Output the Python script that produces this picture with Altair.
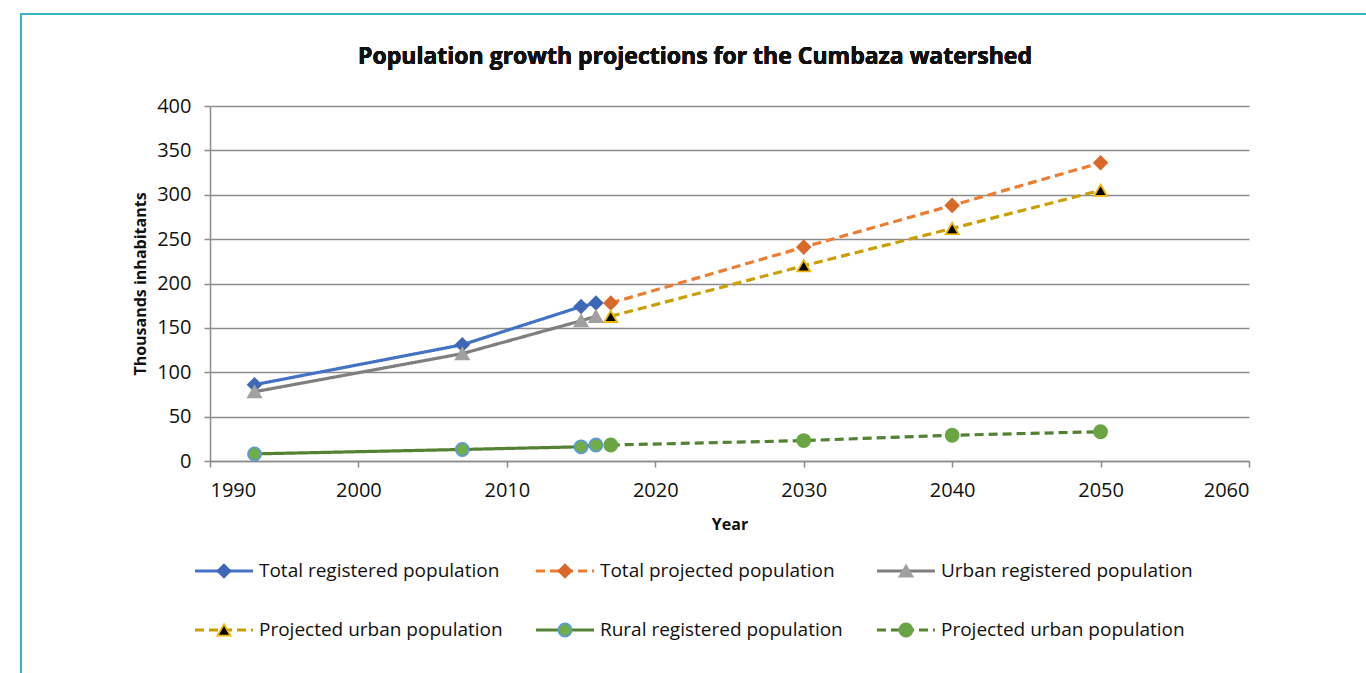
import altair as alt
import pandas as pd

# ---------------- data ----------------
years_registered = [1993, 2007, 2015, 2016]
years_projected = [2017, 2030, 2040, 2050]

total_registered = [86, 131, 174, 178]
total_projected = [178, 241, 288, 336]
urban_registered = [78, 121, 158, 163]
urban_projected = [163, 220, 262, 305]
rural_registered = [8, 13, 16, 18]
rural_projected = [18, 23, 29, 33]

series_keys = ["tot_reg", "tot_proj", "urb_reg", "urb_proj", "rur_reg", "rur_proj"]
series_labels = [
    "Total registered population",
    "Total projected population",
    "Urban registered population",
    "Projected urban population",
    "Rural registered population",
    "Projected urban population",
]
legend_cols = [0, 1, 2, 0, 1, 2]
legend_rows = [0, 0, 0, 1, 1, 1]

x_ticks = [1990, 2000, 2010, 2020, 2030, 2040, 2050, 2060]
y_ticks = [0, 50, 100, 150, 200, 250, 300, 350, 400]

title_text = "Population growth projections for the Cumbaza watershed"

# ---------------- styles ----------------
line_colors = ["#4472C4", "#ED7D31", "#7F7F7F", "#C9A000", "#548235", "#548235"]
dashes = [[1, 0], [9, 5], [1, 0], [9, 5], [1, 0], [9, 5]]
shapes = ["diamond", "diamond", "triangle-up", "triangle-up", "circle", "circle"]
fills = ["#3F67B8", "#D9692A", "#A0A0A0", "#000000", "#70AD47", "#6AA443"]
strokes = ["#3F67B8", "#D9692A", "#A0A0A0", "#F2B400", "#5B9BD5", "#6AA443"]
sizes = [170, 170, 190, 170, 55, 65]

rows = []
for key, yrs, vals in [
    ("tot_reg", years_registered, total_registered),
    ("tot_proj", years_projected, total_projected),
    ("urb_reg", years_registered, urban_registered),
    ("urb_proj", years_projected, urban_projected),
    ("rur_reg", years_registered, rural_registered),
    ("rur_proj", years_projected, rural_projected),
]:
    for yy, v in zip(yrs, vals):
        rows.append({"key": key, "year": yy, "value": v})
df = pd.DataFrame(rows)

legend_df = pd.DataFrame(
    {"key": series_keys, "label": series_labels, "col": legend_cols, "row": legend_rows}
)

FONT = "Open Sans"
TXT = "#111111"
GRAY = "#8C8C8C"

color_scale = alt.Scale(domain=series_keys, range=line_colors)
dash_scale = alt.Scale(domain=series_keys, range=dashes)
shape_scale = alt.Scale(domain=series_keys, range=shapes)
fill_scale = alt.Scale(domain=series_keys, range=fills)
stroke_scale = alt.Scale(domain=series_keys, range=strokes)
size_scale = alt.Scale(domain=series_keys, range=sizes)

x_enc = alt.X(
    "year:Q",
    scale=alt.Scale(domain=[1990, 2060], nice=False, zero=False),
    axis=alt.Axis(
        values=x_ticks, format="d", title="Year", grid=False,
        labelFontSize=20, labelFont=FONT, labelColor=TXT, labelPadding=13,
        tickSize=6, tickColor=GRAY, tickWidth=1.5,
        domainColor=GRAY, domainWidth=1.5,
        titleFont=FONT, titleFontSize=16, titleFontWeight="bold", titleColor=TXT,
        titlePadding=16,
    ),
)
y_enc = alt.Y(
    "value:Q",
    scale=alt.Scale(domain=[0, 400], nice=False),
    axis=alt.Axis(
        values=y_ticks, title="Thousands  inhabitants", grid=True,
        gridColor=GRAY, gridWidth=1.6,
        labelFontSize=20, labelFont=FONT, labelColor=TXT, labelPadding=13,
        tickSize=6, tickColor=GRAY, tickWidth=1.5,
        domainColor=GRAY, domainWidth=1.5,
        titleFont=FONT, titleFontSize=16, titleFontWeight="bold", titleColor=TXT,
        titlePadding=8,
    ),
)

lines = alt.Chart(df).mark_line(strokeWidth=3.2).encode(
    x=x_enc,
    y=y_enc,
    color=alt.Color("key:N", scale=color_scale, legend=None),
    strokeDash=alt.StrokeDash("key:N", scale=dash_scale, legend=None),
    detail="key:N",
)
points = alt.Chart(df).mark_point(filled=True, strokeWidth=1.8, opacity=1).encode(
    x="year:Q",
    y="value:Q",
    shape=alt.Shape("key:N", scale=shape_scale, legend=None),
    fill=alt.Fill("key:N", scale=fill_scale, legend=None),
    stroke=alt.Stroke("key:N", scale=stroke_scale, legend=None),
    size=alt.Size("key:N", scale=size_scale, legend=None),
)
main = alt.layer(lines, points)

# ---------------- manual legend ----------------
lx = alt.Scale(domain=[0, 3], range=[-15, 1008])
ly = alt.Scale(domain=[0, 1], range=[465, 524])
leg_base = alt.Chart(legend_df).transform_calculate(
    xr="datum.col + 0.17", xm="datum.col + 0.085"
)
leg_lines = leg_base.mark_rule(strokeWidth=3.2).encode(
    x=alt.X("col:Q", scale=lx, axis=None),
    x2="xr:Q",
    y=alt.Y("row:Q", scale=ly, axis=None),
    color=alt.Color("key:N", scale=color_scale, legend=None),
    strokeDash=alt.StrokeDash("key:N", scale=dash_scale, legend=None),
)
leg_points = leg_base.mark_point(filled=True, strokeWidth=1.8, opacity=1).encode(
    x=alt.X("xm:Q", scale=lx, axis=None),
    y=alt.Y("row:Q", scale=ly, axis=None),
    shape=alt.Shape("key:N", scale=shape_scale, legend=None),
    fill=alt.Fill("key:N", scale=fill_scale, legend=None),
    stroke=alt.Stroke("key:N", scale=stroke_scale, legend=None),
    size=alt.Size("key:N", scale=size_scale, legend=None),
)
leg_text = leg_base.mark_text(
    align="left", baseline="middle", dx=6, font=FONT, fontSize=19, color=TXT
).encode(
    x=alt.X("xr:Q", scale=lx, axis=None),
    y=alt.Y("row:Q", scale=ly, axis=None),
    text="label:N",
)
legend = alt.layer(leg_lines, leg_points, leg_text)

# ---------------- decorations ----------------
border = alt.Chart(legend_df).mark_rect(
    fill="transparent", stroke="#33B6C4", strokeWidth=1.5
).encode(
    x=alt.value(-189), x2=alt.value(1300), y=alt.value(-92), y2=alt.value(700)
)
title = alt.Chart(legend_df).mark_text(
    text=title_text, font=FONT, fontSize=23, fontWeight="bold", color=TXT,
    align="center", baseline="middle",
).encode(x=alt.value(485), y=alt.value(-49))

chart = (
    alt.layer(border, title, main, legend)
    .resolve_scale(x="independent", y="independent")
    .properties(
        width=1039,
        height=355,
        autosize=alt.AutoSizeParams(type="none"),
        padding={"left": 210, "top": 106, "right": 117, "bottom": 212},
        background="white",
    )
    .configure_view(stroke=None)
)

chart.save("out.html", embed_options={"renderer": "svg", "actions": False})
